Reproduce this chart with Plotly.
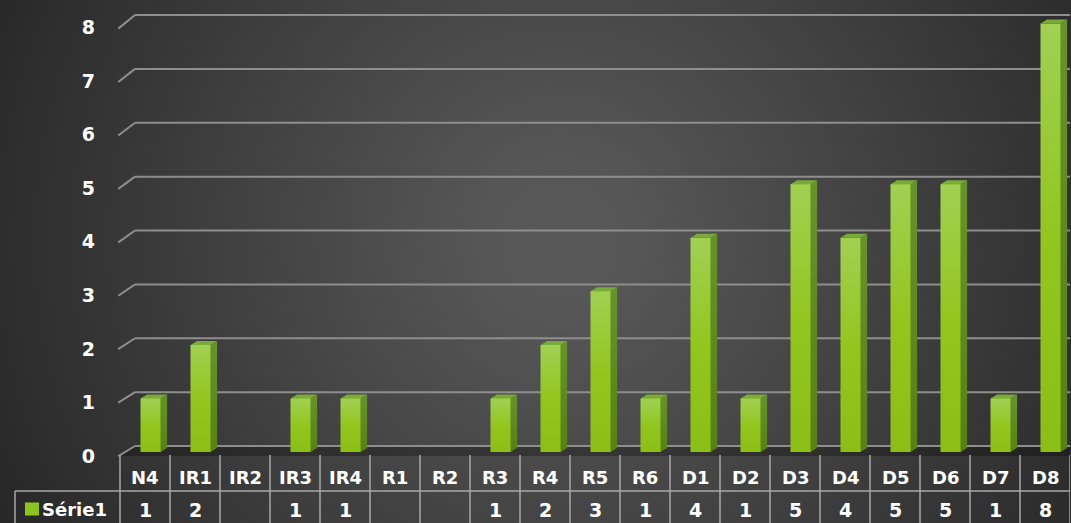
import base64
import plotly.graph_objects as go

# ---------------- data ----------------
categories = ["N4", "IR1", "IR2", "IR3", "IR4", "R1", "R2", "R3", "R4", "R5",
              "R6", "D1", "D2", "D3", "D4", "D5", "D6", "D7", "D8"]
values = [1, 2, None, 1, 1, None, None, 1, 2, 3, 1, 4, 1, 5, 4, 5, 5, 1, 8]
y_ticks = [0, 1, 2, 3, 4, 5, 6, 7, 8]
series_name = "Série1"

# ---------------- geometry / style ----------------
W, H = 1071, 523
ML, MR, MT, MB = 100, 1, 5, 52
PX_PER_Y = 53.55
BASE_PX = 452
ph = H - MT - MB
pw = W - ML - MR
y_min = -(H - MB - BASE_PX) / PX_PER_Y
y_max = y_min + ph / PX_PER_Y
x_min, x_max = -0.9, 18.5

BAR_OFF, BAR_W = -0.09, 0.4
DX, DY = 0.132, 0.075
FRONT_X, BACK_X = -0.534, -0.2

FONT = "DejaVu Sans"
GREEN = "#92c61e"
FRONT_SCALE = [[0, "#8bbf18"], [0.5, "#92c61f"], [1, "#a1d053"]]
SIDE_SCALE = [[0, "#578116"], [1, "#66932c"]]
TOP = "#7aaa3a"
GRID = "#8e8e8e"
TABLE = "#a8a8a8"


def px_x(px):
    return (px - ML) / pw


def px_y(py):
    return (H - MB - py) / ph


def back_off(v):
    return 0.112 + 0.006 * v


def front_off(v):
    return -0.075 - 0.0023 * v


# background radial gradient as svg image
svg = (f'<svg xmlns="http://www.w3.org/2000/svg" width="{W}" height="{H}" viewBox="0 0 {W} {H}" '
       f'preserveAspectRatio="none"><defs><radialGradient id="g" cx="560" cy="240" r="640" '
       f'gradientUnits="userSpaceOnUse"><stop offset="0" stop-color="#585858"/>'
       f'<stop offset="0.12" stop-color="#565656"/><stop offset="1" stop-color="#262626"/>'
       f'</radialGradient></defs><rect width="{W}" height="{H}" fill="url(#g)"/></svg>')
bg_uri = "data:image/svg+xml;base64," + base64.b64encode(svg.encode()).decode()

xs = [i for i, v in enumerate(values) if v is not None]
vs = [v for v in values if v is not None]

fig = go.Figure()

# front faces (bars), then per-bar gradient shading on top
fig.add_trace(go.Bar(x=xs, y=vs, width=BAR_W, offset=BAR_OFF,
                     marker=dict(color=GREEN, line=dict(width=0)),
                     hoverinfo="skip", showlegend=False))

tx, ty = [], []
for i, v in zip(xs, vs):
    x0 = i + BAR_OFF
    x1 = x0 + BAR_W
    fig.add_trace(go.Scatter(x=[x0, x1, x1, x0, x0], y=[0, 0, v, v, 0], mode="lines",
                             fill="toself", fillcolor=GREEN,
                             fillgradient=dict(type="vertical", colorscale=FRONT_SCALE),
                             line=dict(width=0, color=GREEN), hoverinfo="skip", showlegend=False))
    fig.add_trace(go.Scatter(x=[x1, x1 + DX, x1 + DX, x1, x1], y=[0, DY, v + DY, v, 0],
                             mode="lines", fill="toself", fillcolor="#5f8b1f",
                             fillgradient=dict(type="vertical", colorscale=SIDE_SCALE),
                             line=dict(width=0, color="#5f8b1f"), hoverinfo="skip",
                             showlegend=False))
    tx += [x0, x1, x1 + DX, x0 + DX, x0, None]
    ty += [v, v, v + DY, v + DY, v, None]
fig.add_trace(go.Scatter(x=tx, y=ty, mode="lines", fill="toself", fillcolor=TOP,
                         line=dict(width=0, color=TOP), hoverinfo="skip", showlegend=False))

shapes = []
# floor
shapes.append(dict(type="path", xref="x", yref="y", layer="below",
                   path=f"M {FRONT_X} {front_off(0)} L {BACK_X} {back_off(0)} L {x_max} {back_off(0)} "
                        f"L {x_max} {front_off(0)} Z",
                   fillcolor="rgba(0,0,0,0.28)", line=dict(width=0)))
# back wall gridlines with perspective stubs
for v in y_ticks:
    shapes.append(dict(type="line", xref="x", yref="y", layer="below",
                       x0=FRONT_X, y0=v + front_off(v), x1=BACK_X, y1=v + back_off(v),
                       line=dict(color=GRID, width=2)))
    shapes.append(dict(type="line", xref="x", yref="y", layer="below",
                       x0=BACK_X, y0=v + back_off(v), x1=x_max, y1=v + back_off(v),
                       line=dict(color=GRID, width=2)))

# data table grid
for k in range(len(categories) + 1):
    shapes.append(dict(type="line", xref="x", yref="paper", x0=k - 0.5, x1=k - 0.5,
                       y0=px_y(455), y1=px_y(H + 2), line=dict(color=TABLE, width=1.5)))
shapes.append(dict(type="line", xref="paper", yref="paper", x0=px_x(15), x1=px_x(15),
                   y0=px_y(491), y1=px_y(H + 2), line=dict(color=TABLE, width=1.5)))
shapes.append(dict(type="line", xref="paper", yref="paper", x0=px_x(15), x1=1.0,
                   y0=px_y(491), y1=px_y(491), line=dict(color=TABLE, width=1.5)))
# legend key
shapes.append(dict(type="rect", xref="paper", yref="paper", x0=px_x(25), x1=px_x(39),
                   y0=px_y(515.5), y1=px_y(502.5), fillcolor="#8dc41f", line=dict(width=0)))

annotations = []
for i, c in enumerate(categories):
    annotations.append(dict(x=i, y=px_y(477), xref="x", yref="paper", text=c, showarrow=False,
                            xanchor="center", yanchor="middle",
                            font=dict(family=FONT, size=18, color="white", weight="bold")))
for i, v in enumerate(values):
    annotations.append(dict(x=i, y=px_y(509.5), xref="x", yref="paper",
                            text="" if v is None else str(v), showarrow=False,
                            xanchor="center", yanchor="middle",
                            font=dict(family=FONT, size=19, color="white", weight="bold")))
annotations.append(dict(x=px_x(40), y=px_y(509.5), xref="paper", yref="paper", text=series_name,
                        showarrow=False, xanchor="left", yanchor="middle",
                        font=dict(family=FONT, size=18, color="white", weight="bold")))

fig.update_layout(
    width=W, height=H,
    margin=dict(l=ML, r=MR, t=MT, b=MB, pad=0),
    paper_bgcolor="#2e2e2e", plot_bgcolor="rgba(0,0,0,0)",
    images=[dict(source=bg_uri, xref="paper", yref="paper", x=px_x(0), y=px_y(0),
                 sizex=px_x(W) - px_x(0), sizey=px_y(0) - px_y(H), xanchor="left",
                 yanchor="top", sizing="stretch", layer="below")],
    shapes=shapes, annotations=annotations,
    showlegend=False, bargap=0,
    xaxis=dict(range=[x_min, x_max], visible=False, fixedrange=True),
    yaxis=dict(range=[y_min, y_max], tickvals=y_ticks, ticktext=[str(t) for t in y_ticks],
               showgrid=False, zeroline=False, showline=False, ticks="",
               ticklabelshift=4, ticklabelstandoff=4,
               tickfont=dict(family=FONT, size=19, color="white", weight="bold"),
               fixedrange=True),
)

fig.write_html("out.html", config={"displayModeBar": False},
               post_script="document.body.style.margin='0';document.body.style.padding='0';"
                           "document.documentElement.style.overflow='hidden';")
